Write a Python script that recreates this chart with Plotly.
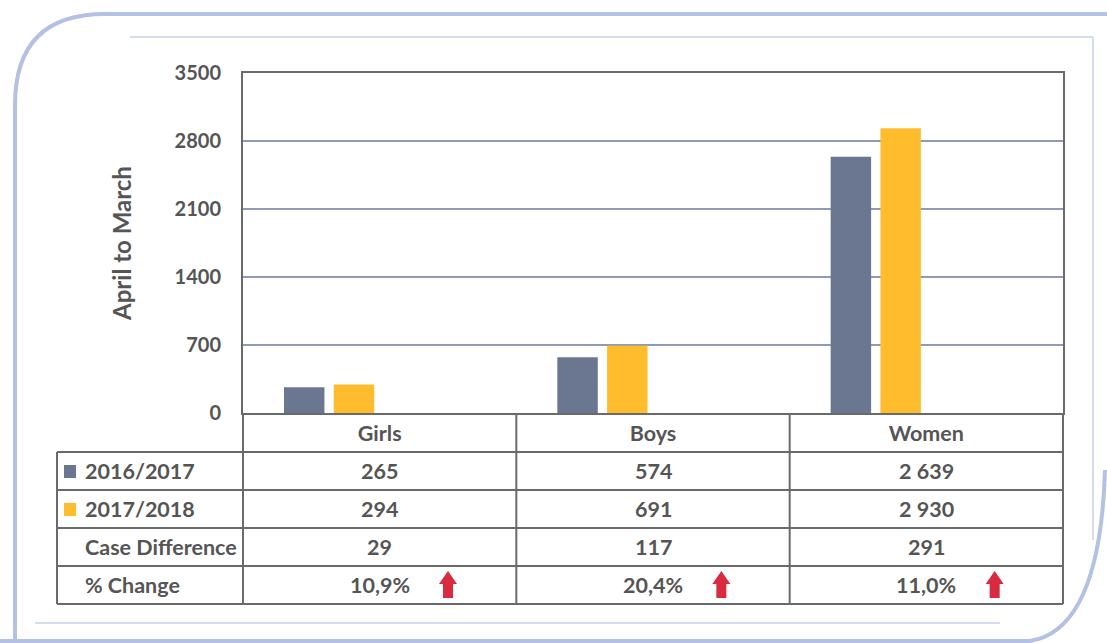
import plotly.graph_objects as go

categories = ["Girls", "Boys", "Women"]
series_names = ["2016/2017", "2017/2018"]
values_2016 = [265, 574, 2639]
values_2017 = [294, 691, 2930]
case_difference = [29, 117, 291]
pct_change = [10.9, 20.4, 11.0]
y_ticks = [0, 700, 1400, 2100, 2800, 3500]
y_title = "April to March"
row_labels = ["2016/2017", "2017/2018", "Case Difference", "% Change"]

GRAY = "#6b7690"
YELLOW = "#ffbd2e"
RED = "#d92a3f"
TEXT = "#555555"
LINE = "#6a6a6a"
GRID = "#8f9bb5"
FRAME = "#b3c1e3"
FONT = "Lato"
TS = 21.5

W, H = 1107, 643
L, R, T, B = 243, 1063, 73, 413
PW, PH = R - L, B - T


def px(x):
    return (x - L) / PW


def py(y):
    return (B - y) / PH


def fmt_int(v):
    return f"{v:,}".replace(",", " ")


def fmt_pct(v):
    return f"{v:.1f}%".replace(".", ",")


fig = go.Figure()
fig.add_trace(go.Bar(x=categories, y=values_2016, name=series_names[0],
                     marker=dict(color=GRAY, line=dict(width=0)),
                     width=0.148, offset=-0.350))
fig.add_trace(go.Bar(x=categories, y=values_2017, name=series_names[1],
                     marker=dict(color=YELLOW, line=dict(width=0)),
                     width=0.148, offset=-0.168))

shapes = []
annotations = []

# table rows
row_edges = [452, 490, 528, 566, 604]
for y in row_edges:
    shapes.append(dict(type="line", xref="paper", yref="paper",
                       x0=px(57), x1=px(R), y0=py(y), y1=py(y),
                       line=dict(color=LINE, width=2)))
shapes.append(dict(type="line", xref="paper", yref="paper",
                   x0=px(57), x1=px(57), y0=py(452), y1=py(604),
                   line=dict(color=LINE, width=2)))
n = len(categories)
for i in range(n + 1):
    xp = i / n
    shapes.append(dict(type="line", xref="paper", yref="paper",
                       x0=xp, x1=xp, y0=py(B), y1=py(604),
                       line=dict(color=LINE, width=2)))

# legend keys inside table
for k, col in enumerate([GRAY, YELLOW]):
    yc = (row_edges[k] + row_edges[k + 1]) / 2
    shapes.append(dict(type="rect", xref="paper", yref="paper",
                       x0=px(64), x1=px(76), y0=py(yc - 6), y1=py(yc + 7),
                       fillcolor=col, line=dict(width=0)))

# row labels
for k, lab in enumerate(row_labels):
    yc = (row_edges[k] + row_edges[k + 1]) / 2
    annotations.append(dict(xref="paper", yref="paper", x=px(83), y=py(yc),
                            text=f"<b>{lab}</b>", showarrow=False,
                            xanchor="left", yanchor="middle",
                            font=dict(family=FONT, size=TS, color=TEXT)))

# cell values
rows = [[fmt_int(v) for v in values_2016],
        [fmt_int(v) for v in values_2017],
        [fmt_int(v) for v in case_difference],
        [fmt_pct(v) for v in pct_change]]
for k, row in enumerate(rows):
    yc = (row_edges[k] + row_edges[k + 1]) / 2
    for i, txt in enumerate(row):
        annotations.append(dict(xref="paper", yref="paper",
                                x=(i + 0.5) / n, y=py(yc),
                                text=f"<b>{txt}</b>", showarrow=False,
                                xanchor="center", yanchor="middle",
                                font=dict(family=FONT, size=TS, color=TEXT)))

# red up arrows in % change row
for i, v in enumerate(pct_change):
    if v > 0:
        cx = (i + 0.75) / n
        hw, sw = 9.0 / PW, 5.0 / PW
        top, mid, bot = py(571), py(584), py(598)
        path = (f"M {cx} {top} L {cx + hw} {mid} L {cx + sw} {mid} "
                f"L {cx + sw} {bot} L {cx - sw} {bot} L {cx - sw} {mid} "
                f"L {cx - hw} {mid} Z")
        shapes.append(dict(type="path", xref="paper", yref="paper", path=path,
                           fillcolor=RED, line=dict(width=0)))

# decorative frame
frame = (f"M {px(15)} {py(645)} L {px(15)} {py(105)} "
         f"Q {px(15)} {py(14)} {px(105)} {py(14)} L {px(1110)} {py(14)}")
shapes.append(dict(type="path", xref="paper", yref="paper", path=frame,
                   line=dict(color=FRAME, width=4)))
frame2 = (f"M {px(1105)} {py(470)} Q {px(1100)} {py(630)} {px(1030)} {py(641)} "
          f"L {px(0)} {py(641)}")
shapes.append(dict(type="path", xref="paper", yref="paper", path=frame2,
                   line=dict(color=FRAME, width=4)))
shapes.append(dict(type="line", xref="paper", yref="paper",
                   x0=px(130), x1=px(1093), y0=py(37), y1=py(37),
                   line=dict(color="#d5dcec", width=2)))
shapes.append(dict(type="line", xref="paper", yref="paper",
                   x0=px(1093), x1=px(1093), y0=py(37), y1=py(540),
                   line=dict(color="#d5dcec", width=2)))
shapes.append(dict(type="line", xref="paper", yref="paper",
                   x0=px(35), x1=px(1000), y0=py(623), y1=py(623),
                   line=dict(color="#c6d1ea", width=1.5)))

fig.update_layout(
    width=W, height=H,
    margin=dict(l=L, r=W - R, t=T, b=H - B),
    paper_bgcolor="white", plot_bgcolor="white",
    barmode="overlay", showlegend=False,
    shapes=shapes, annotations=annotations,
    font=dict(family=FONT, color=TEXT),
    xaxis=dict(showline=True, mirror=True, linecolor=LINE, linewidth=2,
               showgrid=False, ticks="", range=[-0.5, 2.5],
               tickfont=dict(family=FONT, size=TS, color=TEXT, weight="bold"),
               automargin=False),
    yaxis=dict(range=[0, 3500], tickvals=y_ticks, showline=True, mirror=True,
               linecolor=LINE, linewidth=2, showgrid=True, gridcolor=GRID,
               gridwidth=2, zeroline=False, ticks="", ticklabelstandoff=16,
               tickfont=dict(family=FONT, size=20, color=TEXT, weight="bold"),
               automargin=False,
               title=dict(text=f"<b>{y_title}</b>", standoff=36,
                          font=dict(family=FONT, size=24, color=TEXT))),
)

fig.write_html("out.html",
               config={"displayModeBar": False},
               post_script="document.body.style.margin='0';"
                           "document.body.style.padding='0';")
